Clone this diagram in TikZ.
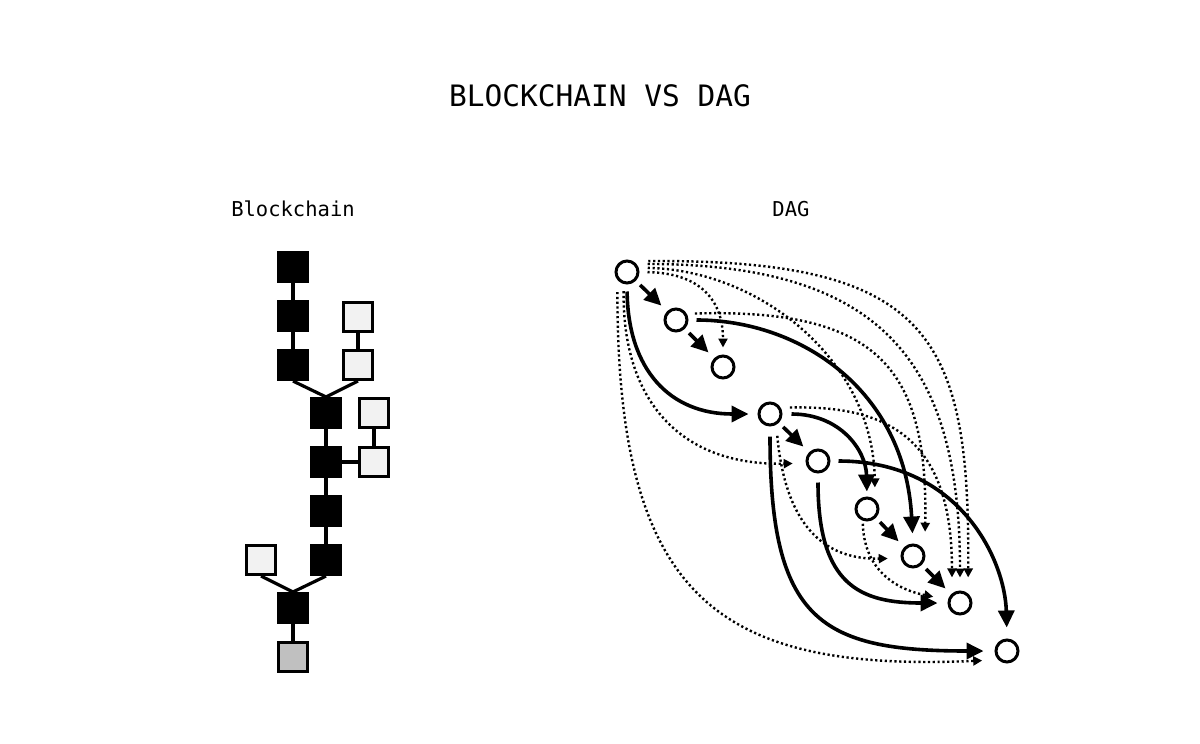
\documentclass[tikz,border=0pt]{standalone}
\usepackage{fontspec}
\setmonofont{DejaVu Sans Mono}
\usetikzlibrary{arrows.meta}
\definecolor{lightfill}{HTML}{F2F2F2}
\definecolor{grayfill}{HTML}{C0C0C0}
\begin{document}
\begin{tikzpicture}[x=1pt,y=-1pt,
  blk/.style={draw=black,fill=black,line width=2.6pt,minimum size=29.5pt,inner sep=0pt},
  lite/.style={blk,fill=lightfill},
  grayb/.style={blk,fill=grayfill},
  link/.style={line width=3.2pt},
  tx/.style={circle,draw=black,fill=white,line width=3pt,minimum size=22pt,inner sep=0pt},
  solidarr/.style={line width=3.6pt,-{Triangle[length=17pt,width=16pt]}},
  shortarr/.style={solidarr,shorten <=6pt,shorten >=8pt},
  dotarr/.style={line width=2.4pt,dash pattern=on 2.2pt off 2.6pt,-{Triangle[length=9pt,width=9pt]}},
  lbl/.style={font=\ttfamily,anchor=base,inner sep=0pt}
]
\useasboundingbox (0,0) rectangle (1200,744);

% titles
\node[lbl,font=\ttfamily\fontsize{29.5}{32}\selectfont] (title) at (600,106) {BLOCKCHAIN VS DAG};
\node[lbl,font=\ttfamily\fontsize{20.5}{24}\selectfont] (lblchain) at (293,216) {Blockchain};
\node[lbl,font=\ttfamily\fontsize{20.5}{24}\selectfont] (lbldag) at (791,216) {DAG};

% blockchain
\node[blk] (k1) at (293,267) {};
\node[blk] (k2) at (293,316) {};
\node[blk] (k3) at (293,365) {};
\node[blk] (k4) at (326,413) {};
\node[blk] (k5) at (326,462) {};
\node[blk] (k6) at (326,511) {};
\node[blk] (k7) at (326,560) {};
\node[blk] (k8) at (293,608) {};
\node[grayb] (g1) at (293,657) {};
\node[lite] (l1) at (358,317) {};
\node[lite] (l2) at (358,365) {};
\node[lite] (l3) at (374,413) {};
\node[lite] (l4) at (374,462) {};
\node[lite] (l5) at (261,560) {};

\draw[link] (k1.south) -- (k2.north);
\draw[link] (k2.south) -- (k3.north);
\draw[link] (k3.south) -- (k4.north);
\draw[link] (l2.south) -- (k4.north);
\draw[link] (l1.south) -- (l2.north);
\draw[link] (k4.south) -- (k5.north);
\draw[link] (k5.south) -- (k6.north);
\draw[link] (k6.south) -- (k7.north);
\draw[link] (k5.east) -- (l4.west);
\draw[link] (l3.south) -- (l4.north);
\draw[link] (k7.south) -- (k8.north);
\draw[link] (l5.south) -- (k8.north);
\draw[link] (k8.south) -- (g1.north);

% DAG nodes
\node[tx] (A) at (627,272) {};
\node[tx] (B) at (676,320) {};
\node[tx] (C) at (723,367) {};
\node[tx] (D) at (770,414) {};
\node[tx] (E) at (818,461) {};
\node[tx] (F) at (867,509) {};
\node[tx] (G) at (913,556) {};
\node[tx] (H) at (960,603) {};
\node[tx] (I) at (1007,651) {};

% dotted references
\draw[dotarr,shorten <=15pt,shorten >=16pt] (A.60) .. controls (930,259) and (970,335) .. (H.50);
\draw[dotarr,shorten <=11pt,shorten >=13pt] (A.40) .. controls (880,264) and (960,360) .. (H.north);
\draw[dotarr,shorten <=9pt,shorten >=12pt] (A.20) .. controls (760,270) and (873,360) .. (F.50);
\draw[dotarr,shorten <=8pt,shorten >=7pt] (A.east) .. controls (700,273) and (723,300) .. (C.north);
\draw[dotarr,shorten <=8pt,shorten >=20pt] (B.30) .. controls (880,308) and (928,370) .. (G.20);
\draw[dotarr,shorten <=9pt,shorten >=16pt] (D.30) .. controls (890,405) and (952,440) .. (H.130);
\draw[dotarr,shorten <=7pt,shorten >=13pt] (A.-105) .. controls (622,400) and (680,466) .. (E.190);
\draw[dotarr,shorten <=12pt,shorten >=16pt] (A.-140) .. controls (617,600) and (720,672) .. (I.225);
\draw[dotarr,shorten <=11pt,shorten >=13pt] (D.-60) .. controls (785,520) and (820,560) .. (G.190);
\draw[dotarr,shorten <=3pt,shorten >=15pt] (F.-110) .. controls (864,565) and (890,588) .. (H.165);

% solid references
\draw[shortarr] (A.-45) -- (B.135);
\draw[shortarr] (B.-45) -- (C.135);
\draw[shortarr] (D.-45) -- (E.135);
\draw[shortarr] (F.-45) -- (G.135);
\draw[shortarr] (G.-45) -- (H.135);
\draw[solidarr,shorten <=7pt,shorten >=9pt] (A.south) .. controls (628,370) and (670,414) .. (D.west);
\draw[solidarr,shorten <=8pt,shorten >=10pt] (B.east) .. controls (800,320) and (905,390) .. (G.north);
\draw[solidarr,shorten <=9pt,shorten >=5pt] (D.east) .. controls (840,414) and (866,450) .. (F.north);
\draw[solidarr,shorten <=10pt,shorten >=11pt] (D.south) .. controls (770,620) and (820,651) .. (I.west);
\draw[solidarr,shorten <=9pt,shorten >=10pt] (E.south) .. controls (818,585) and (860,603) .. (H.west);
\draw[solidarr,shorten <=8pt,shorten >=11pt] (E.east) .. controls (960,461) and (1005,560) .. (I.north);
\end{tikzpicture}
\end{document}
